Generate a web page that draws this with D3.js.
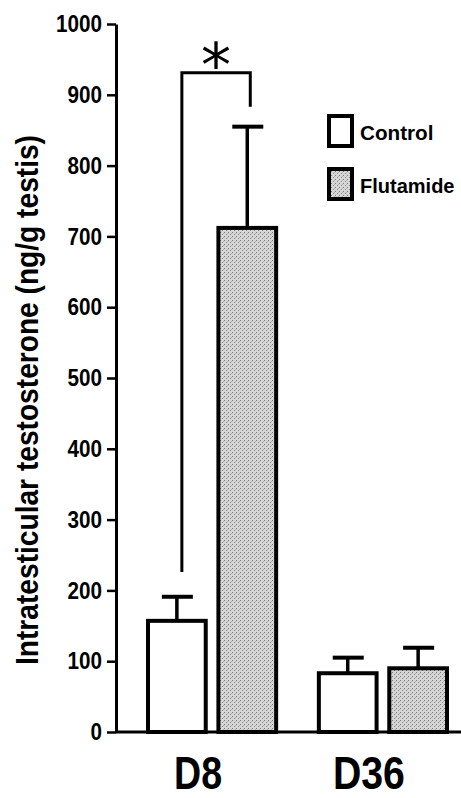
<!DOCTYPE html>
<html>
<head>
<meta charset="utf-8">
<script src="https://cdn.jsdelivr.net/npm/d3@7"></script>
<style>
  body { margin: 0; background: #fff; }
  text { font-family: "Liberation Sans", Arial, sans-serif; font-weight: bold; fill: #000; }
</style>
</head>
<body>
<div id="chart"></div>
<script>
// data
const groups = ['D8', 'D36']
const series = ['Control', 'Flutamide']
const means = { D8: [157, 712], D36: [83, 90] }
const errTops = { D8: [191, 855], D36: [105, 119] }
const yTicks = [0, 100, 200, 300, 400, 500, 600, 700, 800, 900, 1000]
// significance bracket between D8 Control and D8 Flutamide
const bracket = { top: 931, leftEnd: 226, rightEnd: 883, label: '*' }

const W = 461, H = 798
const svg = d3.select('#chart').append('svg').attr('width', W).attr('height', H)

const defs = svg.append('defs')
const pat = defs.append('pattern').attr('id', 'stipple')
  .attr('width', 4).attr('height', 4).attr('patternUnits', 'userSpaceOnUse')
pat.append('rect').attr('width', 4).attr('height', 4).attr('fill', '#d6d6d6')
pat.append('rect').attr('x', 0).attr('y', 0).attr('width', 1).attr('height', 1).attr('fill', '#7a7a7a')
pat.append('rect').attr('x', 2).attr('y', 2).attr('width', 1).attr('height', 1).attr('fill', '#8c8c8c')
pat.append('rect').attr('x', 3).attr('y', 1).attr('width', 1).attr('height', 1).attr('fill', '#b0b0b0')

const fills = ['#fff', 'url(#stipple)']

const axisX = 116
const y = d3.scaleLinear().domain([0, 1000]).range([732, 24])
const x0 = d3.scaleBand().domain(groups).range([148, 447]).paddingInner(0.25).paddingOuter(0)
const x1 = d3.scaleBand().domain(series).range([0, x0.bandwidth()]).paddingInner(0.18).paddingOuter(0)

// baseline
svg.append('line')
  .attr('x1', axisX).attr('x2', W).attr('y1', y(0)).attr('y2', y(0))
  .attr('stroke', '#000').attr('stroke-width', 3)

// y axis
const yAxis = svg.append('g').attr('transform', `translate(${axisX},0)`)
  .call(d3.axisLeft(y).tickValues(yTicks).tickFormat(d3.format('d')).tickSize(9).tickPadding(5).tickSizeOuter(0))
yAxis.select('.domain').attr('stroke-width', 3)
yAxis.selectAll('.tick line').attr('stroke-width', 2.5)
yAxis.selectAll('.tick text')
  .style('font-size', '24px')
  .attr('textLength', (d) => String(d).length * 11.5)
  .attr('lengthAdjust', 'spacingAndGlyphs')

// y label
svg.append('text')
  .attr('transform', 'translate(38,400) rotate(-90)')
  .attr('text-anchor', 'middle')
  .attr('font-size', 31)
  .attr('textLength', 530)
  .attr('lengthAdjust', 'spacingAndGlyphs')
  .text('Intratesticular testosterone (ng/g testis)')

// bars and error bars
groups.forEach((g) => {
  const gx = x0(g)
  series.forEach((s, i) => {
    const bx = gx + x1(s)
    const bw = x1.bandwidth()
    const cx = bx + bw / 2
    svg.append('line')
      .attr('x1', cx).attr('x2', cx)
      .attr('y1', y(means[g][i])).attr('y2', y(errTops[g][i]))
      .attr('stroke', '#000').attr('stroke-width', 3.5)
    svg.append('line')
      .attr('x1', cx - 15).attr('x2', cx + 16)
      .attr('y1', y(errTops[g][i])).attr('y2', y(errTops[g][i]))
      .attr('stroke', '#000').attr('stroke-width', 4)
    svg.append('rect')
      .attr('x', bx).attr('y', y(means[g][i]))
      .attr('width', bw).attr('height', y(0) - y(means[g][i]))
      .attr('fill', fills[i]).attr('stroke', '#000').attr('stroke-width', 4)
  })
  svg.append('text')
    .attr('x', gx + x0.bandwidth() / 2 - 14)
    .attr('y', 789)
    .attr('text-anchor', 'middle')
    .attr('font-size', 47)
    .attr('textLength', g.length * 24)
    .attr('lengthAdjust', 'spacingAndGlyphs')
    .text(g)
})

// significance bracket
const bl = x0('D8') + x1('Control') + x1.bandwidth() / 2 + 5
const br = x0('D8') + x1('Flutamide') + x1.bandwidth() / 2 + 3
svg.append('path')
  .attr('d', d3.line()([[bl, y(bracket.leftEnd)], [bl, y(bracket.top)], [br, y(bracket.top)], [br, y(bracket.rightEnd)]]))
  .attr('fill', 'none').attr('stroke', '#000').attr('stroke-width', 3)
svg.append('text')
  .attr('x', (bl + br) / 2)
  .attr('y', y(bracket.top) + 13)
  .attr('text-anchor', 'middle')
  .style('font-family', '"DejaVu Sans", sans-serif')
  .style('font-weight', 'normal')
  .attr('font-size', 60)
  .text(bracket.label)

// legend
const legend = svg.append('g').attr('transform', 'translate(327,114)')
series.forEach((s, i) => {
  const row = legend.append('g').attr('transform', `translate(0,${i * 53})`)
  row.append('rect').attr('x', 2).attr('y', 2).attr('width', 23).attr('height', 30)
    .attr('fill', fills[i]).attr('stroke', '#000').attr('stroke-width', 4)
  row.append('text').attr('x', 33).attr('y', 26)
    .attr('font-size', 21)
    .attr('textLength', s.length * 10.5)
    .attr('lengthAdjust', 'spacingAndGlyphs')
    .text(s)
})
</script>
</body>
</html>
